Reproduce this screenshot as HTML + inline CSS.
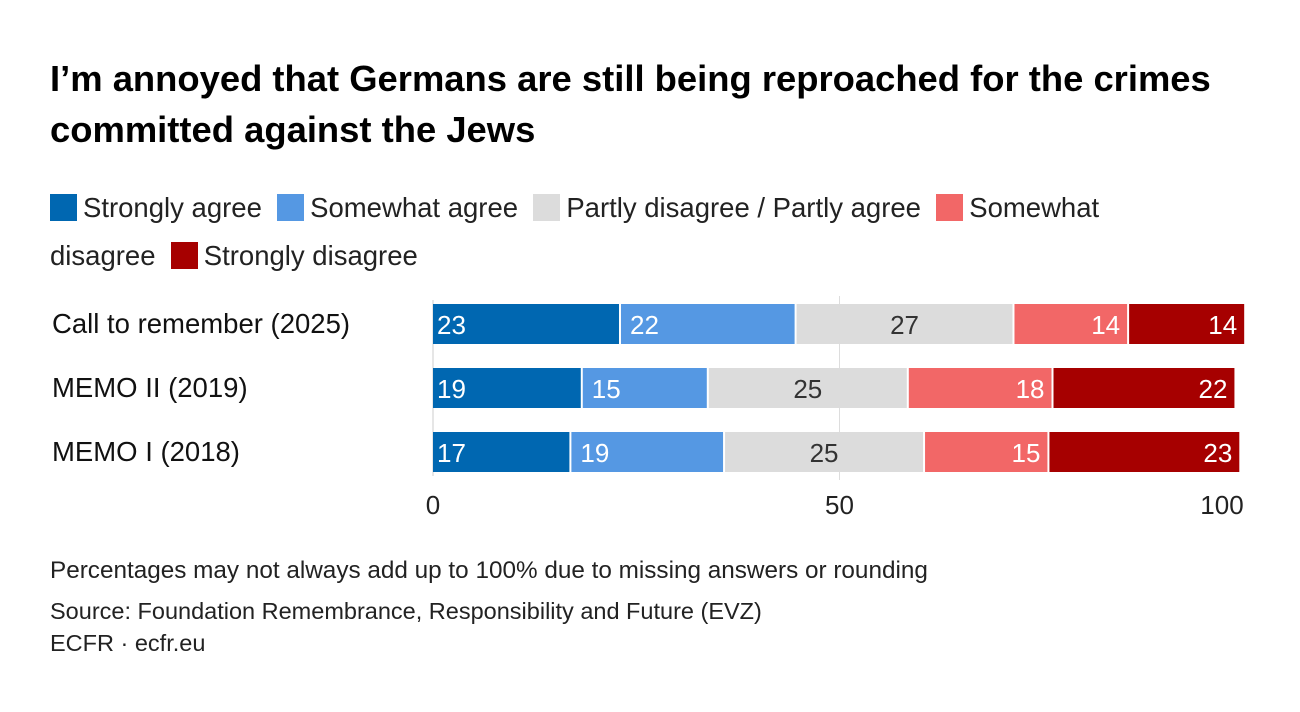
<!DOCTYPE html>
<html><head><meta charset="utf-8"><style>
body{margin:0;background:#fff;width:1300px;height:712px;overflow:hidden;font-family:"Liberation Sans",sans-serif;color:#000}
.t{position:absolute;white-space:nowrap}
.sw{display:inline-block;width:27px;height:27px;vertical-align:-4px;margin-right:6px}
</style></head><body>
<div class="t" style="left:50px;top:53px;font-size:36.4px;font-weight:bold;line-height:51px;">I’m annoyed that Germans are still being reproached for the crimes<br>committed against the Jews</div>
<div style="position:absolute;left:50px;top:184px;width:1120px;font-size:27.5px;line-height:48px;color:#222">
<span><span class="sw" style="background:#0067b1"></span>Strongly agree</span>&nbsp;
<span><span class="sw" style="background:#5598e3"></span>Somewhat agree</span>&nbsp;
<span><span class="sw" style="background:#dcdcdc"></span>Partly disagree / Partly agree</span>&nbsp;
<span><span class="sw" style="background:#f26767"></span>Somewhat disagree</span>&nbsp;
<span style="white-space:nowrap"><span class="sw" style="background:#a60000"></span>Strongly disagree</span>
</div>
<svg id="c" style="position:absolute;left:0;top:0" width="1300" height="712"></svg>
<div class="t" style="left:50px;top:557px;font-size:24.3px;color:#222">Percentages may not always add up to 100% due to missing answers or rounding</div>
<div class="t" style="left:50px;top:598px;font-size:23.5px;color:#222">Source: Foundation Remembrance, Responsibility and Future (EVZ)</div>
<div class="t" style="left:50px;top:630px;font-size:23.5px;color:#222">ECFR · ecfr.eu</div>
<script>
const categories=["Call to remember (2025)","MEMO II (2019)","MEMO I (2018)"];
const strongAgree=[23,18.3,16.9];
const somewhatAgree=[21.6,15.5,18.9];
const partly=[26.8,24.6,24.6];
const somewhatDisagree=[14.1,17.8,15.3];
const strongDisagree=[14.4,22.5,23.6];
const printedStrongAgree=[23,19,17];
const printedSomewhatAgree=[22,15,19];
const printedPartly=[27,25,25];
const printedSomewhatDisagree=[14,18,15];
const printedStrongDisagree=[14,22,23];
const ticks=[0,50,100];
const series=[strongAgree,somewhatAgree,partly,somewhatDisagree,strongDisagree];
const printed=[printedStrongAgree,printedSomewhatAgree,printedPartly,printedSomewhatDisagree,printedStrongDisagree];
const colors=["#0067b1","#5598e3","#dcdcdc","#f26767","#a60000"];
const txt=["#fff","#fff","#333","#fff","#fff"];
const ns="http://www.w3.org/2000/svg";
const svg=document.getElementById('c');
const x=v=>433+v*8.13;
const y=i=>304+i*64;
function mk(t,a){const e=document.createElementNS(ns,t);for(const k in a)e.setAttribute(k,a[k]);svg.appendChild(e);return e;}
ticks.forEach(t=>{if(t>0&&t<100){const g=mk('line',{x1:x(t),x2:x(t),y1:296,y2:480,stroke:'#ddd','stroke-width':1});

}
const l=mk('text',{x:t===100?1222:x(t),y:514,'font-size':26,'text-anchor':'middle',fill:'#222','font-family':'Liberation Sans'});l.textContent=t;

});
const ax=mk('line',{x1:433,x2:433,y1:300,y2:476,stroke:'#ccc'});


categories.forEach((c,i)=>{
const l=mk('text',{x:52,y:y(i)+29,'font-size':27.5,fill:'#111','font-family':'Liberation Sans'});l.textContent=c;


let acc=0;
series.forEach((s,j)=>{const v=s[i];
const r=mk('rect',{x:x(acc)+(acc?1:0),y:y(i),width:v*8.13-(acc?1:0)-1,height:40,fill:colors[j]});


const tx=mk('text',{x:j===0?x(acc)+4:(j>=3?x(acc+v)-8:x(acc+v/2)),y:y(i)+30,'font-size':26,'text-anchor':j===0?'start':(j>=3?'end':'middle'),fill:txt[j],'font-family':'Liberation Sans'});
if(j===1){tx.setAttribute('x',x(acc)+10);tx.setAttribute('text-anchor','start');}
tx.textContent=printed[j][i];


acc+=v;});
});
</script>
</body></html>
